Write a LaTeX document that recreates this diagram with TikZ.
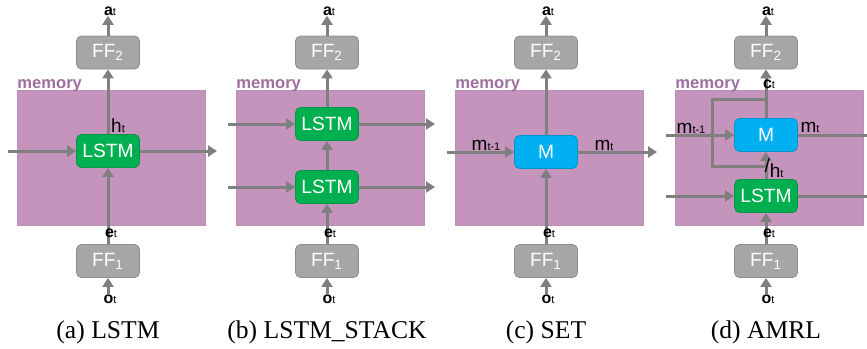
\documentclass[tikz,border=0pt]{standalone}
\usepackage{fontspec}
\setmainfont{Liberation Serif}
\setsansfont{Liberation Sans}
\usetikzlibrary{arrows.meta}
\definecolor{memfill}{RGB}{196,148,188}
\definecolor{memtext}{RGB}{158,110,158}
\definecolor{ffgray}{RGB}{166,166,166}
\definecolor{lstmgreen}{RGB}{0,176,80}
\definecolor{mblue}{RGB}{0,176,240}
\definecolor{wire}{RGB}{127,127,127}
\tikzset{
  cell/.style={rounded corners=2.5pt, minimum width=31.5pt, minimum height=16.5pt,
    inner sep=0pt, text=white, line width=0.4pt, font=\sffamily\fontsize{9.6}{9.6}\selectfont},
  ffbox/.style={cell, fill=ffgray, draw=ffgray!85!black},
  lstmbox/.style={cell, fill=lstmgreen, draw=lstmgreen!85!black},
  mbox/.style={cell, fill=mblue, draw=mblue!85!black},
  wirearrow/.style={draw=wire, line width=1.5pt, -{Triangle[length=4.5pt,width=5.5pt]}},
  wireline/.style={draw=wire, line width=1.5pt},
  vlab/.style={inner sep=0pt, font=\sffamily\bfseries\fontsize{8}{8}\selectfont},
  hlab/.style={inner sep=0pt, font=\sffamily\fontsize{9.5}{9.5}\selectfont},
  memlabel/.style={inner sep=0pt, text=memtext, font=\sffamily\bfseries\fontsize{8.3}{8.3}\selectfont},
  caption/.style={inner sep=0pt, font=\fontsize{12.8}{12.8}\selectfont}
}
\newcommand{\lbl}[2]{#1{\fontsize{5.5}{5.5}\selectfont\mdseries #2}}
% memory block and the two feed-forward boxes of one panel
\newcommand{\panelframe}[2]{
  \draw[fill=memfill, draw=memfill!85!gray] (#2-91,90) rectangle (#2+97,225);
  \node[memlabel, anchor=base west] (mem#1) at (#2-91,88) {memory};
  \node[ffbox] (fftwo#1) at (#2,52.5) {FF\textsubscript{2}};
  \node[ffbox] (ffone#1) at (#2,261) {FF\textsubscript{1}};
}
% labels, the in/out arrows and the caption of one panel
\newcommand{\panellabels}[3]{
  \node[vlab] (a#1) at (#2+2,11) {\lbl{a}{t}};
  \node[vlab] (e#1) at (#2+3,233) {\lbl{e}{t}};
  \node[vlab] (o#1) at (#2+2,299) {\lbl{o}{t}};
  \node[caption] (cap#1) at (#2,332) {#3};
  \draw[wirearrow] (fftwo#1.north) -- (fftwo#1.north |- a#1.south);
  \draw[wirearrow] (ffone#1.south |- o#1.north) -- (ffone#1.south);
}

\begin{document}
\begin{tikzpicture}[x=0.5pt,y=-0.5pt]
\useasboundingbox (0,0) rectangle (867,348);
% (a) LSTM
\panelframe{a}{108}
\node[lstmbox] (lstma) at (108,151) {LSTM};
\coordinate (ina) at (8,151);
\coordinate (outa) at (217,151);
\draw[wirearrow] (ina) -- (lstma);
\draw[wirearrow] (lstma) -- (outa);
\draw[wirearrow] (lstma) -- (fftwoa);
\draw[wirearrow] (ffonea) -- (lstma);
\node[hlab] (ha) at (118,126) {\lbl{h}{t}};
\panellabels{a}{108}{(a) LSTM}
% (b) LSTM_STACK
\panelframe{b}{327}
\node[lstmbox] (lstmtopb) at (327,124) {LSTM};
\node[lstmbox] (lstmbotb) at (327,187) {LSTM};
\coordinate (intopb) at (228,124);
\coordinate (outtopb) at (435,124);
\coordinate (inbotb) at (228,187);
\coordinate (outbotb) at (435,187);
\draw[wirearrow] (intopb) -- (lstmtopb);
\draw[wirearrow] (lstmtopb) -- (outtopb);
\draw[wirearrow] (inbotb) -- (lstmbotb);
\draw[wirearrow] (lstmbotb) -- (outbotb);
\draw[wirearrow] (ffoneb) -- (lstmbotb);
\draw[wirearrow] (lstmbotb) -- (lstmtopb);
\draw[wirearrow] (lstmtopb) -- (fftwob);
\panellabels{b}{327}{(b) LSTM\_STACK}
% (c) SET
\panelframe{c}{546}
\node[mbox] (mc) at (546,152) {M};
\coordinate (inc) at (447,152);
\coordinate (outc) at (657,152);
\draw[wirearrow] (inc) -- (mc);
\draw[wirearrow] (mc) -- (outc);
\draw[wirearrow] (ffonec) -- (mc);
\draw[wirearrow] (mc) -- (fftwoc);
\node[hlab] (mprevc) at (486,145) {\lbl{m}{t-1}};
\node[hlab] (mnowc) at (604,145) {\lbl{m}{t}};
\panellabels{c}{546}{(c) SET}
% (d) AMRL
\panelframe{d}{766}
\node[mbox] (md) at (766,135) {M};
\node[lstmbox] (lstmd) at (766,196) {LSTM};
\coordinate (inmd) at (666,135);
\coordinate (outmd) at (867,135);
\coordinate (inhd) at (666,196);
\coordinate (outhd) at (867,196);
\coordinate (hjoind) at (766,166);
\coordinate (skipbotd) at (712,166);
\coordinate (skiptopd) at (712,99);
\coordinate (cjoind) at (766,99);
\draw[wireline] (hjoind) -- (skipbotd) -- (skiptopd) -- (cjoind);
\draw[wirearrow] (inmd) -- (md);
\draw[wireline] (md) -- (outmd);
\draw[wirearrow] (inhd) -- (lstmd);
\draw[wireline] (lstmd) -- (outhd);
\draw[wirearrow] (ffoned) -- (lstmd);
\draw[wirearrow] (lstmd) -- (md);
\draw[wirearrow] (md) -- (fftwod);
\node[hlab] (mprevd) at (691,128) {\lbl{m}{t-1}};
\node[hlab] (mnowd) at (810,127) {\lbl{m}{t}};
\node[hlab] (hd) at (774,168) {\raisebox{2.5pt}{/}\lbl{h}{t}};
\node[vlab] (cd) at (769,84) {\lbl{c}{t}};
\panellabels{d}{766}{(d) AMRL}
\end{tikzpicture}
\end{document}
